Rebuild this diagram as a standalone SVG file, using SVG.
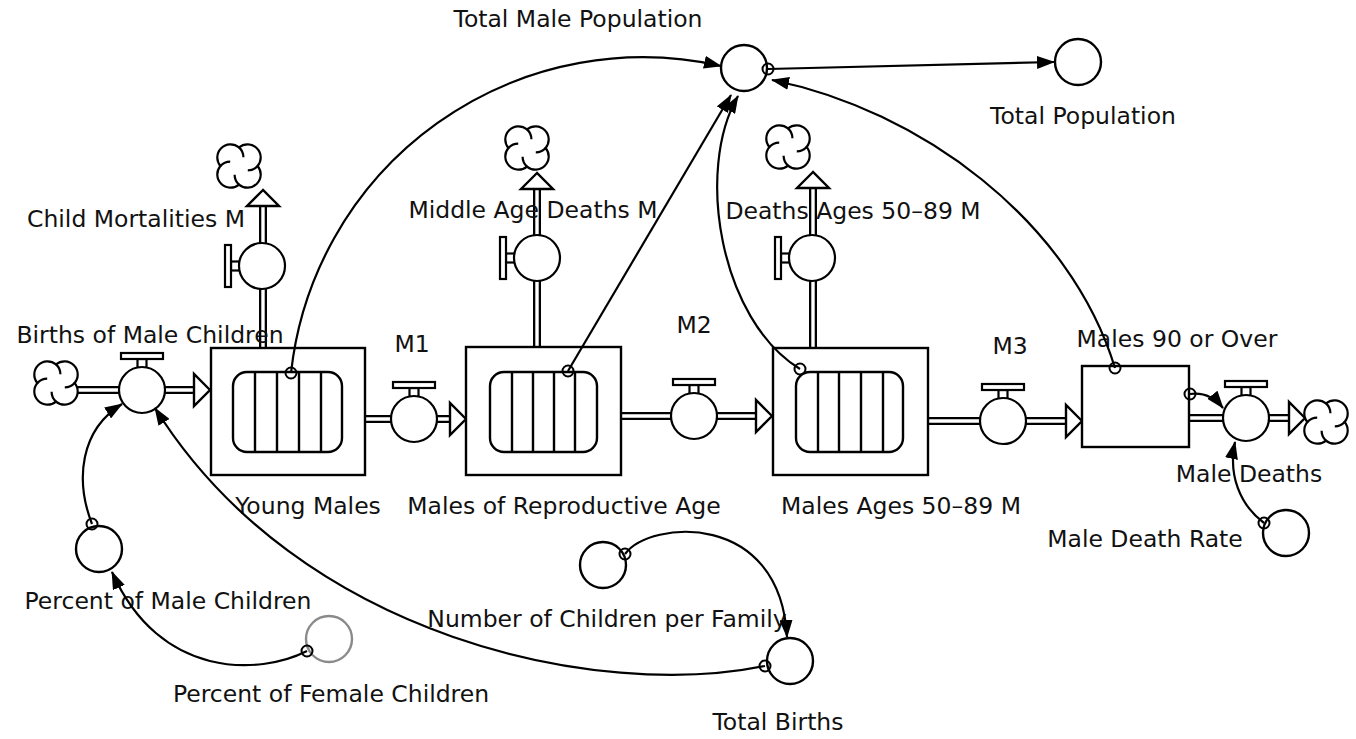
<svg xmlns="http://www.w3.org/2000/svg" width="1356" height="739" viewBox="0 0 1356 739">
<style>
.stk{fill:#fff;stroke:#000;stroke-width:2.4}
.conv{fill:none;stroke:#000;stroke-width:2.4}
.aux{fill:#fff;stroke:#000;stroke-width:2.4}
.gaux{fill:#fff;stroke:#8a8a8a;stroke-width:2.4}
.pipeO{stroke:#000;stroke-width:8;fill:none}
.pipeI{stroke:#fff;stroke-width:3.4;fill:none}
.fa{fill:#fff;stroke:#000;stroke-width:2.4;stroke-linejoin:miter}
.lnk{fill:none;stroke:#000;stroke-width:2.2}
.dot{fill:none;stroke:#000;stroke-width:2}
text{font-family:"DejaVu Sans","Verdana",sans-serif;font-size:23.5px;fill:#111;text-anchor:middle}
</style>
<defs>
<marker id="ah" markerWidth="18" markerHeight="13" refX="17" refY="6.5" orient="auto" markerUnits="userSpaceOnUse"><path d="M0,0 L18,6.5 L0,13 Z" fill="#000"/></marker>
<g id="cloud" fill="#fff" stroke="#000" stroke-width="2.2">
<path d="M0,-18.6 A13.2,13.2 0 0,1 18.6,0 A13.2,13.2 0 0,1 0,18.6 A13.2,13.2 0 0,1 -18.6,0 A13.2,13.2 0 0,1 0,-18.6 Z"/>
<path fill="none" d="M0,-18.6 A13.2,13.2 0 0,1 4.4,-8.8 M18.6,0 A13.2,13.2 0 0,1 8.8,4.4 M0,18.6 A13.2,13.2 0 0,1 -4.4,8.8 M-18.6,0 A13.2,13.2 0 0,1 -8.8,-4.4"/>
</g>
<g id="valveH" fill="#fff" stroke="#000" stroke-width="2.2">
<rect x="-4.5" y="-31" width="9" height="9"/>
<rect x="-21" y="-37" width="42" height="6"/>
<circle r="23"/>
</g>
<g id="valveV" fill="#fff" stroke="#000" stroke-width="2.2">
<rect x="-31" y="-4.5" width="9" height="9"/>
<rect x="-37" y="-21" width="6" height="42"/>
<circle r="23"/>
</g>
</defs>

<!-- flows (pipes) -->
<g id="flows">
<path class="pipeO" d="M75,390 H120 M164,390 H194 M365,419 H392 M436,419 H450 M621,416 H672 M716,416 H758 M928,421 H981 M1025,421 H1066 M1189,418 H1224 M1268,418 H1290 M263,348 V288 M263,244 V206 M537,347 V280 M537,236 V188 M813,348 V280 M813,236 V187"/>
<path class="pipeI" d="M73,390 H122 M162,390 H196 M363,419 H394 M434,419 H452 M619,416 H674 M714,416 H760 M926,421 H983 M1023,421 H1068 M1187,418 H1226 M1266,418 H1292 M263,350 V286 M263,246 V204 M537,349 V278 M537,238 V186 M813,350 V278 M813,238 V185"/>
<polygon class="fa" points="210,390 194,374 194,406"/>
<polygon class="fa" points="466,419 450,403 450,435"/>
<polygon class="fa" points="772,416 756,400 756,432"/>
<polygon class="fa" points="1082,421 1066,405 1066,437"/>
<polygon class="fa" points="1305,418 1289,402 1289,434"/>
<polygon class="fa" points="263,190 247,206 279,206"/>
<polygon class="fa" points="537,173 521,189 553,189"/>
<polygon class="fa" points="813,172 797,188 829,188"/>
</g>

<!-- clouds -->
<g id="cloud-births"><use href="#cloud" x="56" y="383"/></g>
<g id="cloud-child"><use href="#cloud" x="239" y="166"/></g>
<g id="cloud-middle"><use href="#cloud" x="527" y="148"/></g>
<g id="cloud-5089"><use href="#cloud" x="788" y="147"/></g>
<g id="cloud-deaths"><use href="#cloud" x="1326" y="422"/></g>

<!-- stocks -->
<g id="young-males">
<rect class="stk" x="211" y="348" width="154" height="127"/>
<rect class="conv" x="233" y="372" width="109" height="80" rx="14"/>
<path class="conv" d="M255,372V452M277,372V452M299,372V452M321,372V452"/>
<text x="308" y="514">Young Males</text>
</g>
<g id="males-reproductive-age">
<rect class="stk" x="466" y="347" width="155" height="128"/>
<rect class="conv" x="490" y="372" width="107" height="80" rx="14"/>
<path class="conv" d="M512,372V452M533,372V452M554,372V452M575,372V452"/>
<text x="564" y="514">Males of Reproductive Age</text>
</g>
<g id="males-50-89">
<rect class="stk" x="773" y="348" width="155" height="127"/>
<rect class="conv" x="796" y="372" width="107" height="80" rx="14"/>
<path class="conv" d="M818,372V452M839,372V452M861,372V452M883,372V452"/>
<text x="901" y="514">Males Ages 50–89 M</text>
</g>
<g id="males-90">
<rect class="stk" x="1082" y="366" width="107" height="81"/>
<text x="1177" y="347">Males 90 or Over</text>
</g>

<!-- valves -->
<g id="births-of-male-children"><use href="#valveH" x="142" y="390"/><text x="150" y="343">Births of Male Children</text></g>
<g id="m1"><use href="#valveH" x="414" y="419"/><text x="412" y="352">M1</text></g>
<g id="m2"><use href="#valveH" x="694" y="416"/><text x="694" y="333">M2</text></g>
<g id="m3"><use href="#valveH" x="1003" y="421"/><text x="1010" y="354">M3</text></g>
<g id="male-deaths"><use href="#valveH" x="1246" y="418"/><text x="1249" y="482">Male Deaths</text></g>
<g id="child-mortalities"><use href="#valveV" x="262" y="266"/><text x="136" y="227">Child Mortalities M</text></g>
<g id="middle-age-deaths"><use href="#valveV" x="537" y="258"/><text x="533" y="218">Middle Age Deaths M</text></g>
<g id="deaths-50-89"><use href="#valveV" x="812" y="258"/><text x="853" y="219">Deaths Ages 50–89 M</text></g>

<!-- auxiliaries -->
<g id="total-male-population"><circle class="aux" cx="744" cy="68" r="23"/><text x="578" y="27">Total Male Population</text></g>
<g id="total-population"><circle class="aux" cx="1078" cy="62" r="23"/><text x="1083" y="124">Total Population</text></g>
<g id="percent-male-children"><circle class="aux" cx="99" cy="549" r="23"/><text x="168" y="609">Percent of Male Children</text></g>
<g id="percent-female-children"><circle class="gaux" cx="329" cy="639" r="23"/><text x="331" y="702">Percent of Female Children</text></g>
<g id="number-of-children"><circle class="aux" cx="603" cy="565" r="23"/><text x="607" y="627">Number of Children per Family</text></g>
<g id="total-births"><circle class="aux" cx="790" cy="661" r="23"/><text x="778" y="730">Total Births</text></g>
<g id="male-death-rate"><circle class="aux" cx="1286" cy="533" r="23"/><text x="1145" y="547">Male Death Rate</text></g>

<!-- connectors -->
<g id="connectors">
<path class="lnk" marker-end="url(#ah)" d="M291,373 A354,354 0 0,1 721,66"/>
<path class="lnk" marker-end="url(#ah)" d="M568,371 L731,95"/>
<path class="lnk" marker-end="url(#ah)" d="M800,369 C720,320 695,170 738,96"/>
<path class="lnk" marker-end="url(#ah)" d="M1115,368 C1070,220 920,110 772,80"/>
<path class="lnk" marker-end="url(#ah)" d="M768,69 L1054,62"/>
<path class="lnk" marker-end="url(#ah)" d="M92,524 C75,480 80,430 122,404"/>
<path class="lnk" marker-end="url(#ah)" d="M765,666 C600,700 300,640 155,408"/>
<path class="lnk" marker-end="url(#ah)" d="M307,651 C260,675 160,680 112,572"/>
<path class="lnk" marker-end="url(#ah)" d="M625,554 C650,520 780,510 787,637"/>
<path class="lnk" marker-end="url(#ah)" d="M1190,394 C1205,392 1215,398 1223,408"/>
<path class="lnk" marker-end="url(#ah)" d="M1264,523 C1240,505 1228,475 1235,442"/>
<circle class="dot" cx="291" cy="373" r="5.5"/>
<circle class="dot" cx="568" cy="371" r="5.5"/>
<circle class="dot" cx="800" cy="369" r="5.5"/>
<circle class="dot" cx="1115" cy="368" r="5.5"/>
<circle class="dot" cx="768" cy="69" r="5.5"/>
<circle class="dot" cx="92" cy="524" r="5.5"/>
<circle class="dot" cx="765" cy="666" r="5.5"/>
<circle class="dot" cx="307" cy="651" r="5.5"/>
<circle class="dot" cx="625" cy="554" r="5.5"/>
<circle class="dot" cx="1190" cy="394" r="5.5"/>
<circle class="dot" cx="1264" cy="523" r="5.5"/>
</g>
</svg>
